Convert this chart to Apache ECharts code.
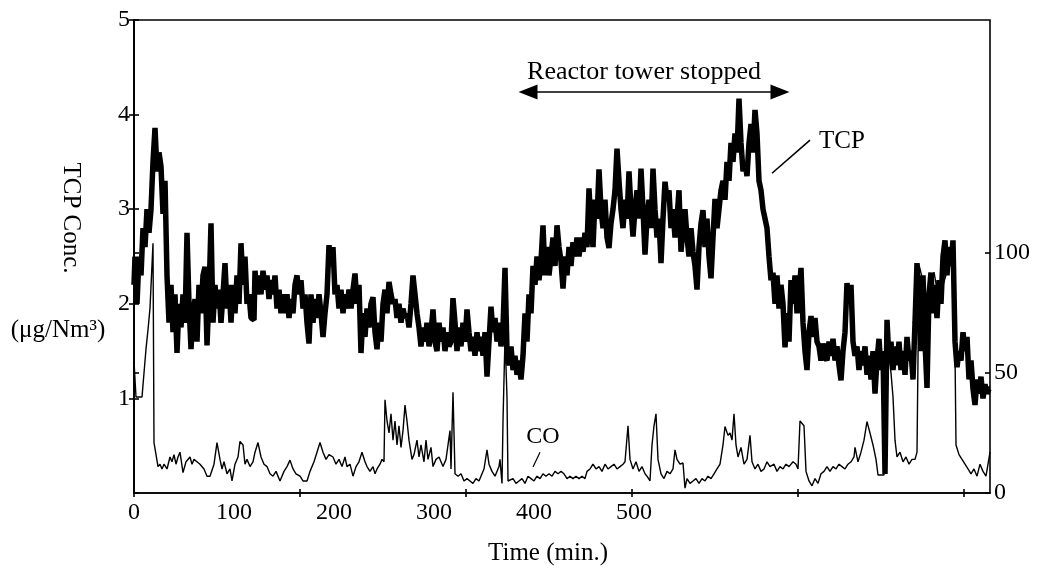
<!DOCTYPE html>
<html><head><meta charset="utf-8">
<script src="https://cdn.jsdelivr.net/npm/echarts@6/dist/echarts.min.js"></script>
<style>html,body{margin:0;padding:0;background:#fff}#c{width:1038px;height:568px}</style>
</head><body><div id="c"></div>
<script>
// TCP concentration (µg/Nm3), left axis
const tcpTime = [
0,2,4,6,8,10,12,14,16,18, 20,22,24,26,28,30,32,34,36,38,
40,42,44,46,48,50,52,54,56,58, 60,62,64,66,68,70,72,74,76,78,
80,82,84,86,88,90,92,94,96,98, 100,102,104,106,108,110,112,114,116,118,
120,122,124,126,128,130,132,134,136,138, 140,142,144,146,148,150,152,154,156,158,
160,162,164,166,168,170,172,174,176,178, 180,182,184,186,188,190,192,194,196,198,
200,202,204,206,208,210,212,214,216,218, 220,222,224,226,228,230,232,234,236,238,
240,242,244,246,248,250,252,254,256,258, 260,262,264,266,268,270,272,274,276,278,
280,282,284,286,288,290,292,294,296,298, 300,302,304,306,308,310,312,314,316,318,
320,322,324,326,328,330,332,334,336,338, 340,342,344,346,348,350,352,354,356,358,
360,362,364,366,368,370,372,374,376,378, 380,382,384,386,388,390,392,394,396,398,
400,402,404,406,408,410,412,414,416,418, 420,422,424,426,428,430,432,434,436,438,
440,442,444,446,448,450,452,454,456,458, 460,462,464,466,468,470,472,474,476,478,
480,482,484,486,488,490,492,494,496,498, 500,502,504,506,508,510,512,514,516,518,
520,522,524,526,528,530,532,534,536,538, 540,542,544,546,548,550,552,554,556,558,
560,562,564,566,568,570,572,574,576,578, 580,582,584,586,588,590,592,594,596,598,
600,602,604,606,608,610,612,614,616,618, 620,622,624,626,628,630,632,634,636,638,
640,642,644,646,648,650,652,654,656,658, 660,662,664,666,668,670,672,674,676,678,
680,682,684,686,688,690,692,694,696,698, 700,702,704,706,708,710,712,714,716,718,
720,722,724,726,728,730,732,734,736,738, 740,742,744,746,748,750,752,754,756,758,
760,762,764,766,768,770,772,774,776,778, 780,782,784,786,788,790,792,794,796,798,
800,802,804,806,808,810,812,814,816,818, 820,822,824,826,828,830,832,834,836,838,
840,842,844,846,848,850,852,854,856
];
const tcpConc = [
2.2,2.5,2.0,2.5,2.3,2.8,2.6,3.0,2.75,3.0, 3.5,3.86,3.4,3.6,3.45,2.95,3.3,2.3,1.8,2.2,
1.7,2.1,1.48,2.0,1.75,2.1,1.8,2.75,2.0,1.52, 1.9,2.05,1.6,2.2,1.9,2.3,2.39,1.56,2.1,2.85,
1.8,2.2,1.95,2.15,1.8,2.1,2.43,1.95,2.2,1.8, 2.2,1.9,2.3,2.0,2.64,2.2,2.5,2.0,2.1,1.85,
1.83,2.35,2.1,2.3,2.1,2.35,2.15,2.3,2.05,2.25, 2.1,2.3,1.95,2.15,1.9,2.1,1.9,2.1,1.85,2.05,
1.9,2.2,2.3,2.1,2.25,1.95,2.1,1.8,1.58,2.1, 1.8,2.05,1.85,2.1,1.9,1.65,1.9,2.1,2.62,2.4,
2.6,2.1,2.2,1.95,2.15,1.9,2.1,1.95,2.15,1.95, 2.15,2.32,2.0,2.2,1.48,1.9,1.65,1.95,1.75,2.0,
2.07,1.7,1.52,1.8,1.6,2.0,2.15,1.9,2.23,2.1, 2.0,2.05,1.85,2.0,1.8,1.95,1.85,1.9,1.75,2.0,
2.3,2.1,1.9,1.75,1.55,1.75,1.6,1.8,1.55,1.7, 1.94,1.6,1.5,1.8,1.6,1.75,1.5,1.7,1.55,1.6,
2.06,1.8,1.5,1.75,1.55,1.8,1.6,1.94,1.7,1.5, 1.65,1.45,1.7,1.5,1.65,1.45,1.7,1.23,1.6,1.97,
1.7,1.85,1.6,1.8,1.55,1.75,2.38,1.5,1.35,1.55, 1.3,1.45,1.25,1.4,1.2,1.45,1.9,1.6,2.1,1.9,
2.4,2.2,2.5,2.25,2.45,2.83,2.3,2.6,2.3,2.5, 2.7,2.4,2.83,2.6,2.45,2.16,2.5,2.3,2.6,2.4,
2.65,2.5,2.7,2.5,2.7,2.55,2.75,2.6,3.22,2.8, 2.6,3.1,2.9,3.42,3.0,2.8,3.1,2.7,2.59,2.85,
3.0,3.2,3.64,3.3,3.0,2.8,3.1,2.9,3.4,3.0, 2.71,3.0,3.2,2.9,3.43,3.0,2.52,2.9,3.1,2.8,
3.43,3.0,2.7,2.9,2.43,2.9,3.29,3.1,3.2,2.8, 3.0,2.7,2.9,3.2,2.55,2.8,3.0,2.7,2.5,2.8,
2.55,2.4,2.15,2.6,2.85,2.99,2.6,2.9,2.5,2.27, 2.7,3.11,2.8,3.0,3.2,3.3,3.1,3.5,3.3,3.7,
3.5,3.8,3.6,4.17,3.7,3.4,3.5,3.35,3.7,3.9, 3.6,4.05,3.8,3.3,3.2,3.0,2.9,2.8,2.5,2.25,
2.33,2.0,2.3,1.95,2.2,2.0,1.54,1.9,1.6,2.25, 2.0,2.3,1.9,2.1,2.38,1.8,1.5,1.3,1.7,1.87,
1.65,1.85,1.6,1.55,1.4,1.58,1.45,1.4,1.6,1.45, 1.63,1.4,1.55,1.35,1.19,1.5,1.7,2.22,2.0,2.2,
1.6,1.45,1.55,1.3,1.5,1.35,1.55,1.25,1.45,1.2, 1.5,1.05,1.4,1.63,1.3,1.5,0.2,1.83,1.4,1.6,
1.3,1.55,1.35,1.6,1.3,1.5,1.25,1.65,1.4,1.5, 1.2,1.8,2.43,2.0,1.5,2.3,1.6,1.11,2.1,2.33,
1.9,2.2,1.85,2.25,2.0,2.5,2.67,2.3,2.6,2.4, 2.67,1.6,1.33,1.5,1.4,1.7,1.5,1.65,1.2,1.4,
1.1,0.93,1.2,1.05,1.23,1.0,1.15,1.05,1.1
];
// CO concentration, right axis
const coTime = [
0,2,8,10,12,14,16,18,19,20,22,24,26,28,30,33,36,38,40,42,44,46,49,52,56,58,60,63,66,70,
73,76,80,83,86,88,90,93,96,98,101,104,106,109,111,113,116,119,121,124,127,130,133,136,139,142,146,150,153,156,
159,162,166,169,173,176,180,183,186,189,192,195,199,202,205,208,211,213,216,219,222,225,228,231,233,236,239,241,243,246,
248,250,251,253,255,257,259,261,263,265,267,269,271,273,275,278,280,283,285,287,290,292,294,297,299,302,305,309,312,316,
317,319,321,324,327,330,333,336,339,342,345,348,350,353,355,358,361,363,365,366,368,369,371,373,374,376,379,382,385,388,
391,394,397,400,403,406,409,412,415,418,421,424,427,430,433,436,439,442,445,448,451,453,456,459,462,465,468,471,474,477,
480,483,486,489,491,494,496,499,502,505,508,511,513,516,518,520,522,524,527,530,533,536,539,541,543,546,549,551,553,556,
559,562,565,568,571,574,577,580,583,586,589,591,594,596,598,600,602,604,607,610,613,616,618,621,624,627,630,633,636,640,
643,646,649,652,655,659,662,664,666,668,670,672,675,678,681,684,687,690,693,696,699,702,705,708,711,714,717,720,721,724,
727,730,733,736,739,742,744,750,752,754,757,759,761,763,766,769,772,775,778,781,783,785,788,792,796,800,805,810,815,820,
822,825,828,831,834,837,840,843,846,849,852,854,856
];
const coConc = [
55,40,40,50,60,68,77,95,104,21,16,11,12,10,12,10,15,13,16,12,15,17,8.5,13,15,12,14,13,12,10,
7,7,12,21,14,10,13,8,10,5,12,15,21.5,20,12,14,11,13,17,21,15,12,11,8,7,9,5,9,11,13.7,
10,8,7,5,5,9,13,17,21,17,14,16,15,12,14,11,15,11,12,7,11,13,17,13,11,9,11,8,10,12,
14,13,38.8,30,25,33,22,30,20,28,19,26,36.6,30,22,14,16,22,15,20,13,22,14,19,11,14,15,11,14,26,
10,42,8,7,8,5,6,5,4,6,5,8,10,18,12,9,7,7,11,14,4,30,65,40,5,5,6,4,5,6,
4,7,6,5,7,6,8,7,8,7,9,8,9,8,6,7,6,7,6,7,6,9,10,12,10,11,9,12,10,11,
12,10,11,12,13,28,14,10,13,9,11,8,7,5,20,28,33,14,8,6,9,8,10,18,14,12,12.5,2,6,4,
5,6,4,6,5,7,6,8,10,12,20,27.7,24,25,22,33,20,15,19,12,14,24,13,10,12,9,10,13,11,12,
9,11,10,12,11,13,12,10,30,30,28,9,5,3,6,4,8,9,11,9,11,10,12,11,10,12,13,15,19,13,
17,22,29.7,25,20,14,7.5,7.5,7.5,60,50,40,22,15,17,13,15,12,14,14,17,95,90,78,85,92,80,88,95,98,
20,16,14,12,10,8,10,7,12,9,7,12,17
];
// axis tick labels / marks
const xLabelValues = [0,100,200,300,400,500];
const xTickValues = [0,166,332,498,664,830];
const leftLabelValues = [1,2,3,4,5];
const rightLabelValues = [0,50,100];

const zip = (a,b) => { const n = Math.min(a.length,b.length), r=[]; for(let i=0;i<n;i++) r.push([a[i],b[i]]); return r; };
const FONT = 'Liberation Serif';
const AX = {color:'#000', width:1.6};
const chart = echarts.init(document.getElementById('c'), null, {renderer:'canvas'});
const option = {
  animation:false,
  backgroundColor:'#fff',
  grid:{left:134,right:48,top:20,bottom:75,show:true,borderColor:'#000',borderWidth:1.6,containLabel:false},
  xAxis:[
    {type:'value',min:0,max:856,position:'bottom',
     axisLine:{show:true,lineStyle:AX},
     axisTick:{show:true,inside:false,length:4,lineStyle:AX,customValues:xTickValues},
     axisLabel:{customValues:xLabelValues,color:'#000',fontFamily:FONT,fontSize:24,margin:8},
     splitLine:{show:false}},
    {type:'value',min:0,max:856,position:'bottom',
     axisLine:{show:false},
     axisTick:{show:true,inside:true,length:4,lineStyle:AX,customValues:xTickValues},
     axisLabel:{show:false},splitLine:{show:false}}
  ],
  yAxis:[
    {type:'value',min:0,max:5,position:'left',
     axisLine:{show:true,lineStyle:AX},
     axisTick:{show:true,length:5,lineStyle:AX,customValues:leftLabelValues},
     axisLabel:{customValues:leftLabelValues,color:'#000',fontFamily:FONT,fontSize:24,margin:4},
     splitLine:{show:false}},
    {type:'value',min:0,max:197,position:'right',
     axisLine:{show:true,lineStyle:AX},
     axisTick:{show:true,length:5,lineStyle:AX,customValues:rightLabelValues},
     axisLabel:{customValues:rightLabelValues,color:'#000',fontFamily:FONT,fontSize:24,margin:4},
     splitLine:{show:false}},
    {type:'value',min:0,max:5,position:'left',
     axisLine:{show:false},
     axisTick:{show:true,inside:true,length:5,lineStyle:AX,customValues:leftLabelValues},
     axisLabel:{show:false},splitLine:{show:false}},
    {type:'value',min:0,max:197,position:'right',
     axisLine:{show:false},
     axisTick:{show:true,inside:true,length:5,lineStyle:AX,customValues:rightLabelValues},
     axisLabel:{show:false},splitLine:{show:false}}
  ],
  series:[
    {name:'CO',type:'line',xAxisIndex:0,yAxisIndex:1,data:zip(coTime,coConc),
     showSymbol:false,symbol:'none',lineStyle:{color:'#000',width:1.4},silent:true,z:2,
     markLine:{silent:true,symbol:'none',label:{show:false},
       lineStyle:{color:'#000',width:1.2,type:'solid'},
       data:[[{coord:[406,17]},{coord:[399,10.8]}]]}},
    {name:'TCP',type:'line',xAxisIndex:0,yAxisIndex:0,data:zip(tcpTime,tcpConc),
     step:'middle',showSymbol:false,symbol:'none',lineStyle:{color:'#000',width:5.5},silent:true,z:3,
     markLine:{silent:true,label:{show:false},
       lineStyle:{color:'#000',width:1.6,type:'solid'},
       data:[
         [{coord:[394,4.24],symbol:'triangle',symbolSize:[15,19]},{coord:[646,4.24],symbol:'triangle',symbolSize:[15,19]}],
         [{coord:[638,3.38],symbol:'none'},{coord:[676,3.73],symbol:'none'}]
       ]}}
  ]
};
chart.setOption(option);
const px = (x,y,yi) => chart.convertToPixel({xAxisIndex:0,yAxisIndex:yi},[x,y]);
const txt = (p,text,size,extra) => Object.assign({type:'text',x:p[0],y:p[1],silent:true,
  style:{text:text,fill:'#000',font:size+'px "'+FONT+'"',textAlign:'center',textVerticalAlign:'middle'}}, extra||{});
chart.setOption({graphic:[
  txt(px(510,4.45,0),'Reactor tower stopped',26),
  txt(px(708,3.72,0),'TCP',25),
  txt(px(409,0.60,0),'CO',24),
  txt([71,218],'TCP Conc.',25,{rotation:-Math.PI/2}),
  txt([58,330],'(\u03bcg/Nm\u00b3)',25),
  txt([548,553],'Time (min.)',25)
]});
</script></body></html>
